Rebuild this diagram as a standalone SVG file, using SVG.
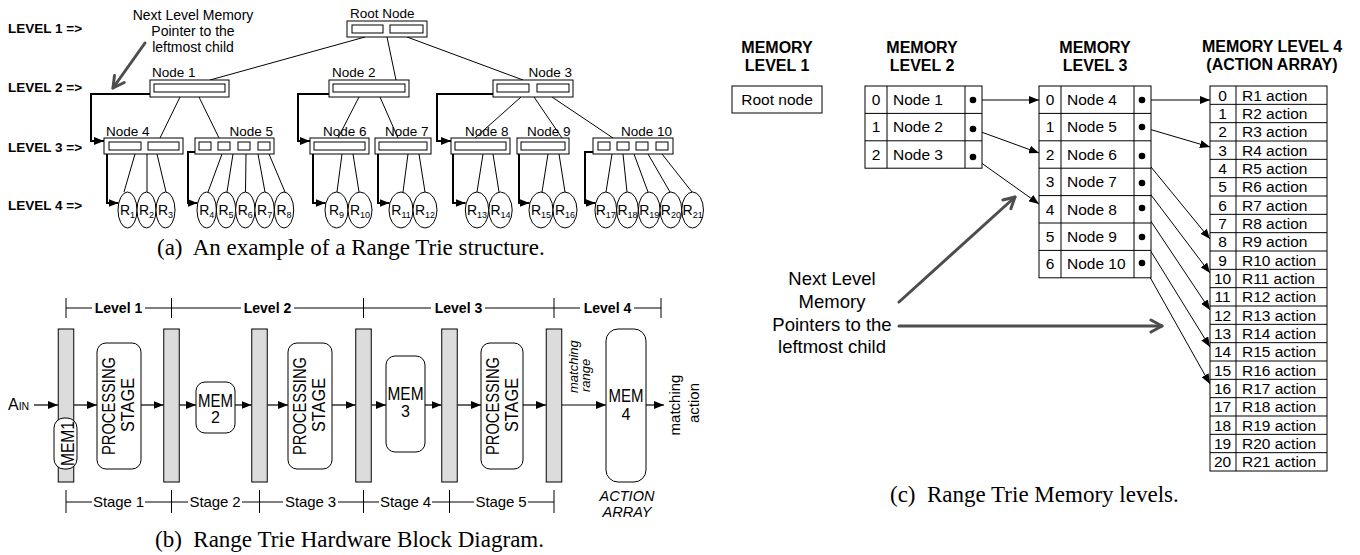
<svg xmlns="http://www.w3.org/2000/svg" width="1360" height="555" viewBox="0 0 1360 555">
<style>
text{font-family:"Liberation Sans",Arial,sans-serif;fill:#000}
.bold{font-weight:bold}
.cap{font-family:"Liberation Serif","Times New Roman",serif;font-size:23px}
.box{fill:#fff;stroke:#000;stroke-width:1}
.in{fill:none;stroke:#000;stroke-width:1}
.edge{fill:none;stroke:#000;stroke-width:1}
.ptr{fill:none;stroke:#000;stroke-width:2;marker-end:url(#ah)}
.flow{fill:none;stroke:#000;stroke-width:1.2;marker-end:url(#ah)}
.link{fill:none;stroke:#000;stroke-width:1;marker-end:url(#ah)}
.note{fill:none;stroke:#4d4d4d;stroke-width:3;stroke-linecap:round;marker-end:url(#chev)}
.reg{fill:#dcdcdc;stroke:#000;stroke-width:1}
.rbox{fill:#fff;stroke:#000;stroke-width:1}
.leaf{fill:#fff;stroke:#000;stroke-width:1}
.lbl{font-size:13.5px}
.lvl{font-size:13.5px;font-weight:bold}
.r{font-size:14px}
.sub{font-size:9px}
.blk{font-size:19px}
.lv{font-size:14px;font-weight:bold}
.st{font-size:15px}
.hd{font-size:16px;font-weight:bold}
.cell{font-size:15.5px}
.act{font-size:15.5px}
.gtx{font-size:18.5px}
</style>
<defs>
<marker id="ah" viewBox="0 0 10 8" refX="10" refY="4" markerWidth="10" markerHeight="8" markerUnits="userSpaceOnUse" orient="auto"><path d="M0,0L10,4L0,8z" fill="#000"/></marker>
<marker id="chev" viewBox="0 0 16 16" refX="13" refY="8" markerWidth="16" markerHeight="16" markerUnits="userSpaceOnUse" orient="auto"><path d="M2,2L13,8L2,14" fill="none" stroke="#4d4d4d" stroke-width="3" stroke-linecap="round" stroke-linejoin="round"/></marker>
</defs>
<rect width="1360" height="555" fill="#fff"/>

<!-- ===== (a) Range Trie structure ===== -->
<g id="level-labels">
<text class="lvl" x="8" y="33">LEVEL 1 =&gt;</text>
<text class="lvl" x="8" y="92">LEVEL 2 =&gt;</text>
<text class="lvl" x="8" y="152">LEVEL 3 =&gt;</text>
<text class="lvl" x="8" y="210">LEVEL 4 =&gt;</text>
</g>
<g id="tree-note">
<text x="193" y="20" text-anchor="middle" style="font-size:14px">Next Level Memory</text>
<text x="193" y="36" text-anchor="middle" style="font-size:14px">Pointer to the</text>
<text x="193" y="52" text-anchor="middle" style="font-size:14px">leftmost child</text>
<line class="note" x1="145" y1="43" x2="113" y2="88"/>
</g>

<g id="connectors">
<!-- tree edges -->
<path class="edge" d="M365,37L210,80M387,37L396,80M407,37L523,80"/>
<path class="edge" d="M180,97L160,138M199,97L219,138M359,97L338,138M380,97L398,138M521,97L475,138M534,97L562,138M552,97L613,138"/>
<path class="edge" d="M135,154L124,192M147,154L147,192M157,154L166,192"/>
<path class="edge" d="M222,154L208,192M233,154L227,192M246,154L245.5,192M258,154L265,192M269,154L285,192"/>
<path class="edge" d="M342,154L337,192M353,154L359,192"/>
<path class="edge" d="M408,154L403,192M419,154L425,192"/>
<path class="edge" d="M483,154L477,192M493,154L499,192"/>
<path class="edge" d="M548,154L542,192M559,154L565,192"/>
<path class="edge" d="M612,154L606,192M623,154L627,192M634,154L648,192M648,154L670,192M662,154L692,192"/>
<!-- leftmost-child pointers -->
<path class="ptr" d="M150,94H91V141H104"/>
<path class="ptr" d="M329,94H298V141H310"/>
<path class="ptr" d="M493,94H437V141H451"/>
<path class="ptr" d="M107,154V203H118.5"/>
<path class="ptr" d="M195,152H188V203H197.5"/>
<path class="ptr" d="M313,154V203H325.5"/>
<path class="ptr" d="M378,154V203H389.5"/>
<path class="ptr" d="M453,154V203H465.5"/>
<path class="ptr" d="M519,154V203H529.5"/>
<path class="ptr" d="M593,152H585V203H595.5"/>

<!-- (b) data path -->
<path class="flow" d="M34,405H58"/>
<path class="flow" d="M74,405H97"/>
<path class="flow" d="M141,405H163.5"/>
<path class="flow" d="M179.5,405H196"/>
<path class="flow" d="M235,405H251.5"/>
<path class="flow" d="M267.5,405H288"/>
<path class="flow" d="M332,405H355.5"/>
<path class="flow" d="M371.5,405H386"/>
<path class="flow" d="M425,405H441.5"/>
<path class="flow" d="M457.5,405H481"/>
<path class="flow" d="M523,405H546"/>
<path class="flow" d="M562,405H606"/>
<path class="flow" d="M646,405H664"/>

<!-- (c) memory pointers -->
<path class="link" d="M973,100L1039,100"/>
<path class="link" d="M973,129L1039,153"/>
<path class="link" d="M973,157L1039,204"/>
<path class="link" d="M1142,100L1210,100"/>
<path class="link" d="M1142,127L1210,147"/>
<path class="link" d="M1142,156L1210,239"/>
<path class="link" d="M1142,183L1210,273"/>
<path class="link" d="M1142,208L1210,310"/>
<path class="link" d="M1142,237L1210,347"/>
<path class="link" d="M1142,263L1210,384"/>
</g>

<g id="root-node">
<text class="lbl" x="350" y="18">Root Node</text>
<rect class="box" x="347" y="21" width="80" height="16"/>
<rect class="in" x="352" y="25" width="31" height="8"/>
<rect class="in" x="390" y="25" width="33" height="8"/>
</g>
<g id="node-1">
<text class="lbl" x="152" y="77">Node 1</text>
<rect class="box" x="150" y="80" width="79" height="17"/>
<rect class="in" x="154" y="84" width="71" height="8"/>
</g>
<g id="node-2">
<text class="lbl" x="332" y="77">Node 2</text>
<rect class="box" x="329" y="80" width="80" height="17"/>
<rect class="in" x="333" y="84" width="72" height="8"/>
</g>
<g id="node-3">
<text class="lbl" x="572" y="77" text-anchor="end">Node 3</text>
<rect class="box" x="493" y="80" width="80" height="17"/>
<rect class="in" x="497" y="84" width="32" height="8"/>
<rect class="in" x="537" y="84" width="32" height="8"/>
</g>
<g id="node-4">
<text class="lbl" x="106" y="136">Node 4</text>
<rect class="box" x="104" y="138" width="79" height="16"/>
<rect class="in" x="109" y="142" width="32" height="8"/>
<rect class="in" x="148" y="142" width="31" height="8"/>
</g>
<g id="node-5">
<text class="lbl" x="273" y="136" text-anchor="end">Node 5</text>
<rect class="box" x="195" y="138" width="79" height="16"/>
<rect class="in" x="199" y="142" width="12" height="8"/>
<rect class="in" x="218" y="142" width="12" height="8"/>
<rect class="in" x="238" y="142" width="12" height="8"/>
<rect class="in" x="258" y="142" width="12" height="8"/>
</g>
<g id="node-6">
<text class="lbl" x="323" y="136">Node 6</text>
<rect class="box" x="310" y="138" width="59" height="16"/>
<rect class="in" x="314" y="142" width="51" height="8"/>
</g>
<g id="node-7">
<text class="lbl" x="385" y="136">Node 7</text>
<rect class="box" x="375" y="138" width="56" height="16"/>
<rect class="in" x="379" y="142" width="48" height="8"/>
</g>
<g id="node-8">
<text class="lbl" x="465" y="136">Node 8</text>
<rect class="box" x="451" y="138" width="59" height="16"/>
<rect class="in" x="455" y="142" width="51" height="8"/>
</g>
<g id="node-9">
<text class="lbl" x="527" y="136">Node 9</text>
<rect class="box" x="517" y="138" width="52" height="16"/>
<rect class="in" x="521" y="142" width="44" height="8"/>
</g>
<g id="node-10">
<text class="lbl" x="672" y="136" text-anchor="end">Node 10</text>
<rect class="box" x="593" y="138" width="80" height="16"/>
<rect class="in" x="598" y="142" width="12" height="8"/>
<rect class="in" x="617" y="142" width="12" height="8"/>
<rect class="in" x="636" y="142" width="12" height="8"/>
<rect class="in" x="656" y="142" width="12" height="8"/>
</g>

<g id="ranges">
<g id="r1"><ellipse class="leaf" cx="127.5" cy="210" rx="9.5" ry="18"/><text class="r" x="127.5" y="215" text-anchor="middle">R<tspan class="sub" dy="2.5">1</tspan></text></g>
<g id="r2"><ellipse class="leaf" cx="146.5" cy="210" rx="9.5" ry="18"/><text class="r" x="146.5" y="215" text-anchor="middle">R<tspan class="sub" dy="2.5">2</tspan></text></g>
<g id="r3"><ellipse class="leaf" cx="165.5" cy="210" rx="9.5" ry="18"/><text class="r" x="165.5" y="215" text-anchor="middle">R<tspan class="sub" dy="2.5">3</tspan></text></g>
<g id="r4"><ellipse class="leaf" cx="206.7" cy="210" rx="9.7" ry="18"/><text class="r" x="206.7" y="215" text-anchor="middle">R<tspan class="sub" dy="2.5">4</tspan></text></g>
<g id="r5"><ellipse class="leaf" cx="226" cy="210" rx="9.7" ry="18"/><text class="r" x="226" y="215" text-anchor="middle">R<tspan class="sub" dy="2.5">5</tspan></text></g>
<g id="r6"><ellipse class="leaf" cx="245.3" cy="210" rx="9.7" ry="18"/><text class="r" x="245.3" y="215" text-anchor="middle">R<tspan class="sub" dy="2.5">6</tspan></text></g>
<g id="r7"><ellipse class="leaf" cx="264.6" cy="210" rx="9.7" ry="18"/><text class="r" x="264.6" y="215" text-anchor="middle">R<tspan class="sub" dy="2.5">7</tspan></text></g>
<g id="r8"><ellipse class="leaf" cx="284" cy="210" rx="9.7" ry="18"/><text class="r" x="284" y="215" text-anchor="middle">R<tspan class="sub" dy="2.5">8</tspan></text></g>
<g id="r9"><ellipse class="leaf" cx="336.5" cy="210" rx="11.5" ry="18"/><text class="r" x="336.5" y="215" text-anchor="middle">R<tspan class="sub" dy="2.5">9</tspan></text></g>
<g id="r10"><ellipse class="leaf" cx="360" cy="210" rx="12" ry="18"/><text class="r" x="360" y="215" text-anchor="middle">R<tspan class="sub" dy="2.5">10</tspan></text></g>
<g id="r11"><ellipse class="leaf" cx="401" cy="210" rx="12" ry="18"/><text class="r" x="401" y="215" text-anchor="middle">R<tspan class="sub" dy="2.5">11</tspan></text></g>
<g id="r12"><ellipse class="leaf" cx="425" cy="210" rx="12" ry="18"/><text class="r" x="425" y="215" text-anchor="middle">R<tspan class="sub" dy="2.5">12</tspan></text></g>
<g id="r13"><ellipse class="leaf" cx="477" cy="210" rx="11.7" ry="18"/><text class="r" x="477" y="215" text-anchor="middle">R<tspan class="sub" dy="2.5">13</tspan></text></g>
<g id="r14"><ellipse class="leaf" cx="500.5" cy="210" rx="11.7" ry="18"/><text class="r" x="500.5" y="215" text-anchor="middle">R<tspan class="sub" dy="2.5">14</tspan></text></g>
<g id="r15"><ellipse class="leaf" cx="541" cy="210" rx="12" ry="18"/><text class="r" x="541" y="215" text-anchor="middle">R<tspan class="sub" dy="2.5">15</tspan></text></g>
<g id="r16"><ellipse class="leaf" cx="565" cy="210" rx="12" ry="18"/><text class="r" x="565" y="215" text-anchor="middle">R<tspan class="sub" dy="2.5">16</tspan></text></g>
<g id="r17"><ellipse class="leaf" cx="605.8" cy="210" rx="10.85" ry="18"/><text class="r" x="605.8" y="215" text-anchor="middle">R<tspan class="sub" dy="2.5">17</tspan></text></g>
<g id="r18"><ellipse class="leaf" cx="627.5" cy="210" rx="10.85" ry="18"/><text class="r" x="627.5" y="215" text-anchor="middle">R<tspan class="sub" dy="2.5">18</tspan></text></g>
<g id="r19"><ellipse class="leaf" cx="649.2" cy="210" rx="10.85" ry="18"/><text class="r" x="649.2" y="215" text-anchor="middle">R<tspan class="sub" dy="2.5">19</tspan></text></g>
<g id="r20"><ellipse class="leaf" cx="670.9" cy="210" rx="10.85" ry="18"/><text class="r" x="670.9" y="215" text-anchor="middle">R<tspan class="sub" dy="2.5">20</tspan></text></g>
<g id="r21"><ellipse class="leaf" cx="692.6" cy="210" rx="10.85" ry="18"/><text class="r" x="692.6" y="215" text-anchor="middle">R<tspan class="sub" dy="2.5">21</tspan></text></g>
</g>
<text class="cap" x="157" y="255">(a)&#160; An example of a Range Trie structure.</text>

<!-- ===== (b) hardware block diagram ===== -->
<g id="level-scale">
<path class="edge" d="M66,298V318M171.5,298V318M363.5,298V318M554,298V318M661,298V318"/>
<path class="edge" d="M66,308H92M145,308H171.5M171.5,308H241M294,308H363.5M363.5,308H431M485,308H554M554,308H580M634,308H661"/>
<text class="lv" x="118.5" y="313" text-anchor="middle">Level 1</text>
<text class="lv" x="267.5" y="313" text-anchor="middle">Level 2</text>
<text class="lv" x="458.5" y="313" text-anchor="middle">Level 3</text>
<text class="lv" x="607.5" y="313" text-anchor="middle">Level 4</text>
</g>
<g id="stage-scale">
<path class="edge" d="M66,490V513M171.5,490V513M259.5,490V513M363.5,490V513M449.5,490V513M554,490V513"/>
<path class="edge" d="M66,502H92M145,502H171.5M171.5,502H188M242,502H259.5M259.5,502H283M338,502H363.5M363.5,502H379M432,502H449.5M449.5,502H474M528,502H554"/>
<text class="st" x="118.5" y="507" text-anchor="middle" textLength="51">Stage 1</text>
<text class="st" x="215" y="507" text-anchor="middle" textLength="51">Stage 2</text>
<text class="st" x="310.5" y="507" text-anchor="middle" textLength="51">Stage 3</text>
<text class="st" x="405.5" y="507" text-anchor="middle" textLength="51">Stage 4</text>
<text class="st" x="501" y="507" text-anchor="middle" textLength="51">Stage 5</text>
</g>
<g id="input">
<text x="8" y="410" style="font-size:16px">A<tspan style="font-size:10.5px">IN</tspan></text>
</g>
<g id="reg-1"><rect class="reg" x="58.25" y="329" width="15.5" height="153"/></g>
<g id="reg-2"><rect class="reg" x="163.75" y="329" width="15.5" height="153"/></g>
<g id="reg-3"><rect class="reg" x="251.75" y="329" width="15.5" height="153"/></g>
<g id="reg-4"><rect class="reg" x="355.75" y="329" width="15.5" height="153"/></g>
<g id="reg-5"><rect class="reg" x="441.75" y="329" width="15.5" height="153"/></g>
<g id="reg-6"><rect class="reg" x="546.25" y="329" width="15.5" height="153"/></g>
<g id="mem-1">
<rect class="rbox" x="54" y="418" width="23" height="51" rx="10"/>
<text class="blk" transform="translate(73.5,443.5) rotate(-90)" text-anchor="middle" textLength="45" lengthAdjust="spacingAndGlyphs">MEM1</text>
</g>
<g id="stage-1">
<rect class="rbox" x="97" y="343" width="44" height="126" rx="9"/>
<text class="blk" transform="translate(114.5,406) rotate(-90)" text-anchor="middle" textLength="98" lengthAdjust="spacingAndGlyphs">PROCESSING</text>
<text class="blk" transform="translate(133.5,405) rotate(-90)" text-anchor="middle" textLength="54" lengthAdjust="spacingAndGlyphs">STAGE</text>
</g>
<g id="mem-2">
<rect class="rbox" x="196" y="382" width="39" height="51" rx="9"/>
<text x="215.5" y="406.5" text-anchor="middle" style="font-size:18px" textLength="35" lengthAdjust="spacingAndGlyphs">MEM</text>
<text x="215.5" y="422.5" text-anchor="middle" style="font-size:16px">2</text>
</g>
<g id="stage-3">
<rect class="rbox" x="288" y="343" width="44" height="126" rx="9"/>
<text class="blk" transform="translate(305.5,406) rotate(-90)" text-anchor="middle" textLength="98" lengthAdjust="spacingAndGlyphs">PROCESSING</text>
<text class="blk" transform="translate(324.5,405) rotate(-90)" text-anchor="middle" textLength="54" lengthAdjust="spacingAndGlyphs">STAGE</text>
</g>
<g id="mem-3">
<rect class="rbox" x="386" y="356" width="39" height="96" rx="9"/>
<text x="405.5" y="400" text-anchor="middle" style="font-size:18px" textLength="36" lengthAdjust="spacingAndGlyphs">MEM</text>
<text x="405.5" y="417" text-anchor="middle" style="font-size:16px">3</text>
</g>
<g id="stage-5">
<rect class="rbox" x="481" y="343" width="42" height="126" rx="9"/>
<text class="blk" transform="translate(498.5,406) rotate(-90)" text-anchor="middle" textLength="98" lengthAdjust="spacingAndGlyphs">PROCESSING</text>
<text class="blk" transform="translate(517.5,405) rotate(-90)" text-anchor="middle" textLength="54" lengthAdjust="spacingAndGlyphs">STAGE</text>
</g>
<g id="range-label">
<text transform="translate(578,393) rotate(-90)" style="font-size:13px;font-style:italic">matching</text>
<text transform="translate(590,392) rotate(-90)" style="font-size:13px;font-style:italic">range</text>
</g>
<g id="mem-4">
<rect class="rbox" x="606" y="329" width="40" height="153" rx="12"/>
<text x="626" y="402" text-anchor="middle" style="font-size:18px" textLength="35" lengthAdjust="spacingAndGlyphs">MEM</text>
<text x="626" y="420" text-anchor="middle" style="font-size:16px">4</text>
<text x="627" y="501" text-anchor="middle" style="font-size:14.5px;font-style:italic">ACTION</text>
<text x="627" y="517" text-anchor="middle" style="font-size:14.5px;font-style:italic">ARRAY</text>
</g>
<g id="output">
<text transform="translate(680,405) rotate(-90)" text-anchor="middle" style="font-size:15px">matching</text>
<text transform="translate(699,403) rotate(-90)" text-anchor="middle" style="font-size:15px">action</text>
</g>
<text class="cap" x="155" y="547">(b)&#160; Range Trie Hardware Block Diagram.</text>

<!-- ===== (c) memory levels ===== -->
<g id="mem-level-1">
<text class="hd" x="777" y="53" text-anchor="middle">MEMORY</text>
<text class="hd" x="777" y="71" text-anchor="middle">LEVEL 1</text>
<rect class="box" x="732" y="86" width="90" height="27"/>
<text class="cell" x="777" y="105" text-anchor="middle">Root node</text>
</g>
<g id="mem-level-2">
<text class="hd" x="922" y="53" text-anchor="middle">MEMORY</text>
<text class="hd" x="922" y="71" text-anchor="middle">LEVEL 2</text>
<rect class="box" x="865" y="86" width="117" height="82.2"/>
<path class="edge" d="M887,86V168.2M965,86V168.2M865,113.4H982M865,140.8H982"/>
<text class="cell" x="876" y="105" text-anchor="middle">0</text><text class="cell" x="893" y="105">Node 1</text>
<text class="cell" x="876" y="132.4" text-anchor="middle">1</text><text class="cell" x="893" y="132.4">Node 2</text>
<text class="cell" x="876" y="159.8" text-anchor="middle">2</text><text class="cell" x="893" y="159.8">Node 3</text>
<circle cx="973" cy="100" r="3.3"/><circle cx="973" cy="129" r="3.3"/><circle cx="973" cy="157" r="3.3"/>
</g>
<g id="mem-level-3">
<text class="hd" x="1095" y="53" text-anchor="middle">MEMORY</text>
<text class="hd" x="1095" y="71" text-anchor="middle">LEVEL 3</text>
<rect class="box" x="1039" y="86" width="112" height="191.8"/>
<path class="edge" d="M1061,86V277.8M1134,86V277.8M1039,113.4H1151M1039,140.8H1151M1039,168.2H1151M1039,195.6H1151M1039,223H1151M1039,250.4H1151"/>
<text class="cell" x="1050" y="105" text-anchor="middle">0</text><text class="cell" x="1067" y="105">Node 4</text>
<text class="cell" x="1050" y="132.4" text-anchor="middle">1</text><text class="cell" x="1067" y="132.4">Node 5</text>
<text class="cell" x="1050" y="159.8" text-anchor="middle">2</text><text class="cell" x="1067" y="159.8">Node 6</text>
<text class="cell" x="1050" y="187.2" text-anchor="middle">3</text><text class="cell" x="1067" y="187.2">Node 7</text>
<text class="cell" x="1050" y="214.6" text-anchor="middle">4</text><text class="cell" x="1067" y="214.6">Node 8</text>
<text class="cell" x="1050" y="242" text-anchor="middle">5</text><text class="cell" x="1067" y="242">Node 9</text>
<text class="cell" x="1050" y="269.4" text-anchor="middle">6</text><text class="cell" x="1067" y="269.4">Node 10</text>
<circle cx="1142" cy="100" r="3.3"/><circle cx="1142" cy="127" r="3.3"/><circle cx="1142" cy="156" r="3.3"/><circle cx="1142" cy="183" r="3.3"/><circle cx="1142" cy="208" r="3.3"/><circle cx="1142" cy="237" r="3.3"/><circle cx="1142" cy="263" r="3.3"/>
</g>
<g id="mem-level-4">
<text class="hd" x="1272" y="52" text-anchor="middle">MEMORY LEVEL 4</text>
<text class="hd" x="1272" y="70" text-anchor="middle">(ACTION ARRAY)</text>
<rect class="box" x="1210" y="86" width="117" height="385"/>
<path class="edge" d="M1236,86V471M1210,104.33H1327M1210,122.67H1327M1210,141H1327M1210,159.33H1327M1210,177.67H1327M1210,196H1327M1210,214.33H1327M1210,232.67H1327M1210,251H1327M1210,269.33H1327M1210,287.67H1327M1210,306H1327M1210,324.33H1327M1210,342.67H1327M1210,361H1327M1210,379.33H1327M1210,397.67H1327M1210,416H1327M1210,434.33H1327M1210,452.67H1327"/>
<text class="act" x="1222.5" y="100.5" text-anchor="middle">0</text><text class="act" x="1242" y="100.5">R1 action</text>
<text class="act" x="1222.5" y="118.8" text-anchor="middle">1</text><text class="act" x="1242" y="118.8">R2 action</text>
<text class="act" x="1222.5" y="137.2" text-anchor="middle">2</text><text class="act" x="1242" y="137.2">R3 action</text>
<text class="act" x="1222.5" y="155.5" text-anchor="middle">3</text><text class="act" x="1242" y="155.5">R4 action</text>
<text class="act" x="1222.5" y="173.8" text-anchor="middle">4</text><text class="act" x="1242" y="173.8">R5 action</text>
<text class="act" x="1222.5" y="192.2" text-anchor="middle">5</text><text class="act" x="1242" y="192.2">R6 action</text>
<text class="act" x="1222.5" y="210.5" text-anchor="middle">6</text><text class="act" x="1242" y="210.5">R7 action</text>
<text class="act" x="1222.5" y="228.8" text-anchor="middle">7</text><text class="act" x="1242" y="228.8">R8 action</text>
<text class="act" x="1222.5" y="247.2" text-anchor="middle">8</text><text class="act" x="1242" y="247.2">R9 action</text>
<text class="act" x="1222.5" y="265.5" text-anchor="middle">9</text><text class="act" x="1242" y="265.5">R10 action</text>
<text class="act" x="1222.5" y="283.8" text-anchor="middle">10</text><text class="act" x="1242" y="283.8">R11 action</text>
<text class="act" x="1222.5" y="302.2" text-anchor="middle">11</text><text class="act" x="1242" y="302.2">R12 action</text>
<text class="act" x="1222.5" y="320.5" text-anchor="middle">12</text><text class="act" x="1242" y="320.5">R13 action</text>
<text class="act" x="1222.5" y="338.8" text-anchor="middle">13</text><text class="act" x="1242" y="338.8">R14 action</text>
<text class="act" x="1222.5" y="357.2" text-anchor="middle">14</text><text class="act" x="1242" y="357.2">R15 action</text>
<text class="act" x="1222.5" y="375.5" text-anchor="middle">15</text><text class="act" x="1242" y="375.5">R16 action</text>
<text class="act" x="1222.5" y="393.8" text-anchor="middle">16</text><text class="act" x="1242" y="393.8">R17 action</text>
<text class="act" x="1222.5" y="412.2" text-anchor="middle">17</text><text class="act" x="1242" y="412.2">R18 action</text>
<text class="act" x="1222.5" y="430.5" text-anchor="middle">18</text><text class="act" x="1242" y="430.5">R19 action</text>
<text class="act" x="1222.5" y="448.8" text-anchor="middle">19</text><text class="act" x="1242" y="448.8">R20 action</text>
<text class="act" x="1222.5" y="467.2" text-anchor="middle">20</text><text class="act" x="1242" y="467.2">R21 action</text>
</g>
<g id="memory-note">
<text class="gtx" x="832" y="285" text-anchor="middle">Next Level</text>
<text class="gtx" x="832" y="308" text-anchor="middle">Memory</text>
<text class="gtx" x="832" y="331" text-anchor="middle">Pointers to the</text>
<text class="gtx" x="832" y="353" text-anchor="middle">leftmost child</text>
<line class="note" x1="899" y1="302" x2="1015" y2="197"/>
<line class="note" x1="899" y1="326" x2="1162" y2="326"/>
</g>
<text class="cap" x="890" y="502">(c)&#160; Range Trie Memory levels.</text>
</svg>
